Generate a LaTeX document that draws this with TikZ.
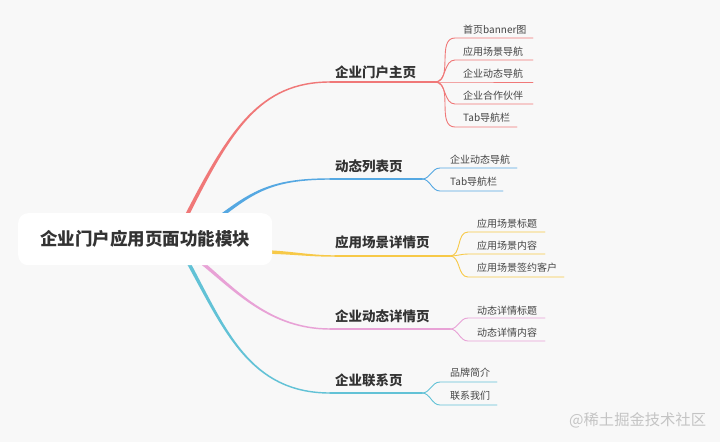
\documentclass[tikz,border=0pt]{standalone}
\usepackage{fontspec}
\usetikzlibrary{calc}
\setmainfont{Noto Sans CJK SC}
\definecolor{bgcol}{HTML}{F8F8F8}
\definecolor{txt}{HTML}{333333}
\definecolor{ctxt}{HTML}{444444}
\definecolor{cR}{HTML}{F07878}
\definecolor{cB}{HTML}{55A8E2}
\definecolor{cY}{HTML}{F7C948}
\definecolor{cP}{HTML}{E8A2D6}
\definecolor{cC}{HTML}{62C2D6}
\definecolor{wm}{HTML}{C4C4C4}
\tikzset{
  rootbox/.style={fill=white, rounded corners=10pt, inner sep=0pt, font=\fontsize{17.5}{20}\selectfont\bfseries, text=txt},
  branchtext/.style={anchor=west, inner sep=0pt, font=\fontsize{13.5}{16}\selectfont\bfseries, text=txt},
  childtext/.style={anchor=west, inner sep=0pt, font=\fontsize{10}{12}\selectfont, text=ctxt},
  mainedge/.style={line width=1.4pt, line cap=round},
  childedge/.style={line width=0.9pt, line cap=round},
}
\begin{document}
\begin{tikzpicture}[x=1pt,y=-1pt]
\fill[bgcol] (0,0) rectangle (720,442);
\useasboundingbox (0,0) rectangle (720,442);

% start points (just inside the root box)
\coordinate (sR) at (186,217);
\coordinate (sB) at (221,216);
\coordinate (sY) at (268,252);
\coordinate (sP) at (201,262);
\coordinate (sC) at (188,262);

% branch line ends / forks
\coordinate (eR) at (330,82);  \coordinate (fR) at (435,82);
\coordinate (eB) at (330,179); \coordinate (fB) at (422,179);
\coordinate (eY) at (335,256); \coordinate (fY) at (450,256);
\coordinate (eP) at (330,329); \coordinate (fP) at (450,329);
\coordinate (eC) at (330,393); \coordinate (fC) at (422,393);

% tapered main edges (thick at the root, thin at the branch)
\fill[cR] ($(sR)+(1.7,0.9)$) .. controls ($(230,130)+(1.2,0.6)$) and ($(260,82)+(0,0.8)$) .. ($(eR)+(0,0.7)$)
       -- ($(eR)+(0,-0.7)$) .. controls ($(260,82)+(0,-0.8)$) and ($(230,130)+(-1.2,-0.6)$) .. ($(sR)+(-1.7,-0.9)$) -- cycle;
\draw[mainedge, cR] (eR) -- (fR);

\fill[cB] ($(sB)+(1.1,1.4)$) .. controls ($(255,190)+(0.8,1)$) and ($(275,179)+(0,0.8)$) .. ($(eB)+(0,0.7)$)
       -- ($(eB)+(0,-0.7)$) .. controls ($(275,179)+(0,-0.8)$) and ($(255,190)+(-0.8,-1)$) .. ($(sB)+(-1.1,-1.4)$) -- cycle;
\draw[mainedge, cB] (eB) -- (fB);

\fill[cY] ($(sY)+(0,1.8)$) .. controls ($(295,253)+(0,1.4)$) and ($(310,256)+(0,0.8)$) .. ($(eY)+(0,0.7)$)
       -- ($(eY)+(0,-0.7)$) .. controls ($(310,256)+(0,-0.8)$) and ($(295,253)+(0,-1.4)$) .. ($(sY)+(0,-1.8)$) -- cycle;
\draw[mainedge, cY] (eY) -- (fY);

\fill[cP] ($(sP)+(-1.15,1.4)$) .. controls ($(235,290)+(-0.8,1)$) and ($(270,329)+(0,0.8)$) .. ($(eP)+(0,0.7)$)
       -- ($(eP)+(0,-0.7)$) .. controls ($(270,329)+(0,-0.8)$) and ($(235,290)+(0.8,-1)$) .. ($(sP)+(1.15,-1.4)$) -- cycle;
\draw[mainedge, cP] (eP) -- (fP);

\fill[cC] ($(sC)+(-1.6,0.85)$) .. controls ($(225,330)+(-1.2,0.6)$) and ($(250,393)+(0,0.8)$) .. ($(eC)+(0,0.7)$)
       -- ($(eC)+(0,-0.7)$) .. controls ($(250,393)+(0,-0.8)$) and ($(225,330)+(1.2,-0.6)$) .. ($(sC)+(1.6,-0.85)$) -- cycle;
\draw[mainedge, cC] (eC) -- (fC);

% root (drawn over the edge starts)
\node[rootbox, minimum width=254pt, minimum height=52pt, anchor=north west] (root) at (18,213) {企业门户应用页面功能模块};

% branch labels
\node[branchtext] (bR) at (335,72) {企业门户主页};
\node[branchtext] (bB) at (335,166) {动态列表页};
\node[branchtext] (bY) at (335,242) {应用场景详情页};
\node[branchtext] (bP) at (335,316) {企业动态详情页};
\node[branchtext] (bC) at (335,380) {企业联系页};

% red children
\node[childtext] (r1) at (463,29.5) {首页banner图};
\node[childtext] (r2) at (463,51.5) {应用场景导航};
\node[childtext] (r3) at (463,73.5) {企业动态导航};
\node[childtext] (r4) at (463,95.5) {企业合作伙伴};
\node[childtext] (r5) at (463,117.5) {Tab导航栏};
\foreach \n/\y/\e in {1/38/533, 2/60/533, 3/82/533, 4/104/533, 5/127/517} {
  \coordinate (r\n s) at (455,\y);
  \coordinate (r\n e) at (\e,\y);
  \draw[childedge, cR] (fR) to[out=0,in=180] (r\n s) -- (r\n e);
}

% blue children
\node[childtext] (b1) at (450,160) {企业动态导航};
\node[childtext] (b2) at (450,182) {Tab导航栏};
\foreach \n/\y/\e in {1/168/517, 2/191/503} {
  \coordinate (b\n s) at (440,\y);
  \coordinate (b\n e) at (\e,\y);
  \draw[childedge, cB] (fB) to[out=0,in=180] (b\n s) -- (b\n e);
}

% yellow children
\node[childtext] (y1) at (477,224) {应用场景标题};
\node[childtext] (y2) at (477,246) {应用场景内容};
\node[childtext] (y3) at (477,268) {应用场景签约客户};
\foreach \n/\y/\e in {1/232/545, 2/254/545, 3/277/564} {
  \coordinate (y\n s) at (468,\y);
  \coordinate (y\n e) at (\e,\y);
  \draw[childedge, cY] (fY) to[out=0,in=180] (y\n s) -- (y\n e);
}

% pink children
\node[childtext] (p1) at (477,311) {动态详情标题};
\node[childtext] (p2) at (477,333) {动态详情内容};
\foreach \n/\y/\e in {1/318/545, 2/341/545} {
  \coordinate (p\n s) at (468,\y);
  \coordinate (p\n e) at (\e,\y);
  \draw[childedge, cP] (fP) to[out=0,in=180] (p\n s) -- (p\n e);
}

% cyan children
\node[childtext] (c1) at (450,373) {品牌简介};
\node[childtext] (c2) at (450,396) {联系我们};
\foreach \n/\y/\e in {1/382/497, 2/405/497} {
  \coordinate (c\n s) at (440,\y);
  \coordinate (c\n e) at (\e,\y);
  \draw[childedge, cC] (fC) to[out=0,in=180] (c\n s) -- (c\n e);
}

% watermark
\node[anchor=west, inner sep=0pt, font=\fontsize{15.3}{17}\selectfont, text=wm] (wmk) at (569,420) {@稀土掘金技术社区};
\end{tikzpicture}
\end{document}
